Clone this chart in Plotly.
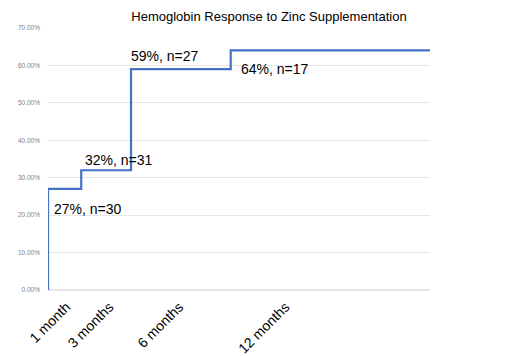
import plotly.graph_objects as go

# Data
months = [1, 1, 3, 6, 12, 24]
response = [0.0, 0.27, 0.32, 0.59, 0.64, 0.64]

label_text = ["27%, n=30", "32%, n=31", "59%, n=27", "64%, n=17"]
label_x = [1.24, 3.11, 5.9, 12.5]
label_y = [0.217, 0.348, 0.626, 0.591]

tick_labels = ["1 month", "3 months", "6 months", "12 months"]
tick_pos = [2.1, 4.7, 8.9, 15.3]

fig = go.Figure()
fig.add_trace(go.Scatter(
    x=months, y=response, mode="lines", line_shape="hv",
    line=dict(color="#4472C4", width=2.2), hoverinfo="skip", showlegend=False,
))

for t, x, y in zip(label_text, label_x, label_y):
    fig.add_annotation(x=x, y=y, text=t, showarrow=False, xanchor="left", yanchor="middle",
                       font=dict(family="Liberation Sans, Arial", size=14, color="#000000"))

fig.update_layout(
    width=520, height=356,
    margin=dict(l=48, r=90, t=28, b=66),
    paper_bgcolor="white", plot_bgcolor="white",
    title=dict(text="Hemoglobin Response to Zinc Supplementation", x=269/520, xanchor="center",
               y=1 - 16/356, yanchor="middle",
               font=dict(family="Liberation Sans, Arial", size=13, color="#000000")),
    xaxis=dict(range=[1, 24], showgrid=False, zeroline=False, showline=False, automargin=False,
               tickmode="array", tickvals=tick_pos, ticktext=tick_labels, tickangle=-45,
               ticks="", ticklabelstandoff=5,
               tickfont=dict(family="Liberation Sans, Arial", size=14, color="#000000")),
    yaxis=dict(range=[0, 0.70], tickvals=[0, 0.1, 0.2, 0.3, 0.4, 0.5, 0.6, 0.7], tickformat=".2%",
               showgrid=True, gridcolor="#E6E6E6", gridwidth=1, zeroline=True, zerolinecolor="#E6E6E6",
               showline=False, ticks="", ticklabelstandoff=7, automargin=False,
               tickfont=dict(family="Liberation Sans, Arial", size=6.5, color="#808080")),
)

fig.write_html("out.html", config={"displayModeBar": False},
               post_script="document.body.style.margin='0';")
